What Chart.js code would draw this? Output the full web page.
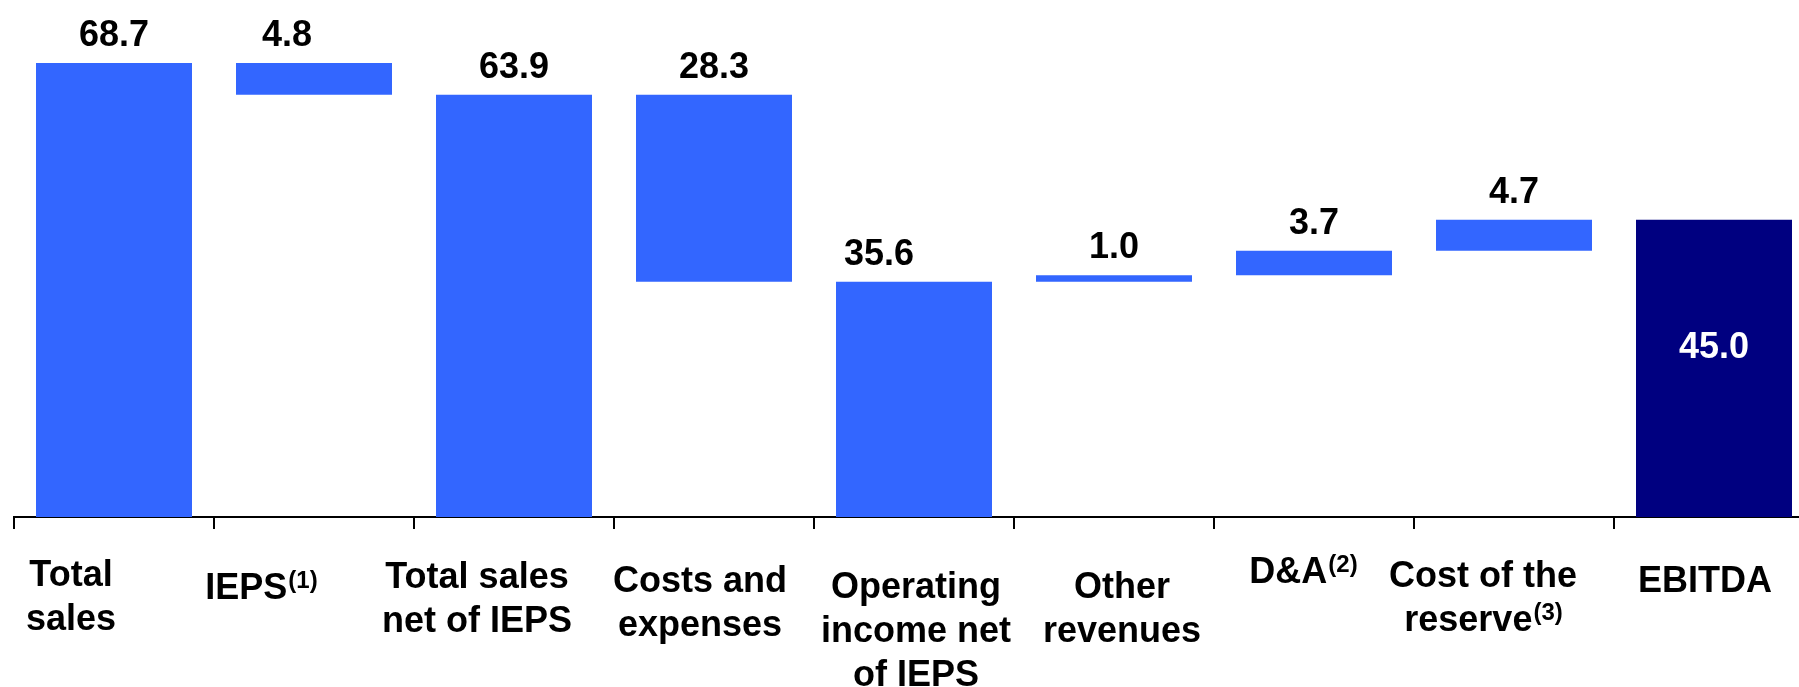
<!DOCTYPE html>
<html>
<head>
<meta charset="utf-8">
<title>EBITDA bridge</title>
<script src="https://cdn.jsdelivr.net/npm/chart.js@4/dist/chart.umd.min.js"></script>
<style>
  html, body { margin: 0; padding: 0; background: #fff; overflow: hidden; }
  canvas { display: block; }
</style>
</head>
<body>
<canvas id="bridge" width="1830" height="687"></canvas>
<script>
// categories, one array entry per text line
const categories = [
  ["Total", "sales"],
  ["IEPS"],
  ["Total sales", "net of IEPS"],
  ["Costs and", "expenses"],
  ["Operating", "income net", "of IEPS"],
  ["Other", "revenues"],
  ["D&A"],
  ["Cost of the", "reserve"],
  ["EBITDA"]
];
const footnotes = ["", "(1)", "", "", "", "", "(2)", "(3)", ""];

// amounts shown on the bars and how each one moves the running level
const amounts = [68.7, 4.8, 63.9, 28.3, 35.6, 1.0, 3.7, 4.7, 45.0];
const steps = ["total", "down", "total", "down", "total", "up", "up", "up", "total"];

const BLUE = "#3366ff";
const NAVY = "#000080";
const FONT = "'Liberation Sans', Arial, sans-serif";

// small hand nudges for the text boxes [dx, baseline]
const catNudge = [[-43, 69], [-53, 82], [-37, 71], [-14, 75], [2, 81], [8, 81], [-11, 66], [-31, 70], [-9, 75]];
const valueNudge = [0, -27, 0, 0, -35, 0, 0, 0, 0];

// floating [low, high] ranges for the waterfall
let level = 0;
const ranges = amounts.map((v, i) => {
  if (steps[i] === "total") { level = v; return [0, v]; }
  if (steps[i] === "down") { level -= v; return [level, level + v]; }
  level += v;
  return [level - v, level];
});

const labelPlugin = {
  id: "bridgeLabels",
  afterDatasetsDraw(chart) {
    const ctx = chart.ctx;
    const meta = chart.getDatasetMeta(0);
    const xScale = chart.scales.x;
    const bottom = chart.chartArea.bottom;
    ctx.save();
    ctx.textBaseline = "alphabetic";

    // values above (or inside) the bars
    ctx.font = "bold 36px " + FONT;
    ctx.textAlign = "center";
    meta.data.forEach((bar, i) => {
      const top = Math.min(bar.y, bar.base);
      const low = Math.max(bar.y, bar.base);
      const text = amounts[i].toFixed(1);
      if (i === amounts.length - 1) {
        ctx.fillStyle = "#fff";
        ctx.fillText(text, bar.x, top + (low - top) * 0.42 + 13);
      } else {
        ctx.fillStyle = "#000";
        ctx.fillText(text, bar.x + valueNudge[i], top - 17);
      }
    });

    // category names under the axis, with superscript footnote marks
    ctx.fillStyle = "#000";
    ctx.textAlign = "left";
    categories.forEach((lines, i) => {
      const cx = xScale.getPixelForValue(i) + catNudge[i][0];
      const y0 = bottom + catNudge[i][1];
      lines.forEach((line, j) => {
        const sup = j === lines.length - 1 ? footnotes[i] : "";
        ctx.font = "bold 36px " + FONT;
        const w = ctx.measureText(line).width;
        ctx.font = "bold 24px " + FONT;
        const sw = sup ? ctx.measureText(sup).width : 0;
        const x = cx - (w + sw) / 2;
        const y = y0 + j * 44;
        ctx.font = "bold 36px " + FONT;
        ctx.fillText(line, x, y);
        if (sup) {
          ctx.font = "bold 24px " + FONT;
          ctx.fillText(sup, x + w + 1, y - 11);
        }
      });
    });
    ctx.restore();
  }
};

new Chart(document.getElementById("bridge"), {
  type: "bar",
  data: {
    labels: categories.map(l => l.join(" ")),
    datasets: [{
      data: ranges,
      backgroundColor: ctx => (ctx.dataIndex === amounts.length - 1 ? NAVY : BLUE),
      borderWidth: 0,
      barPercentage: 0.78,
      categoryPercentage: 1
    }]
  },
  options: {
    responsive: false,
    animation: false,
    devicePixelRatio: 1,
    layout: { padding: { left: 14, right: 16, top: 0, bottom: 0 } },
    plugins: { legend: { display: false }, tooltip: { enabled: false } },
    scales: {
      x: {
        afterFit(scale) { scale.height = 170; },
        ticks: { display: false },
        grid: {
          offset: true,
          drawOnChartArea: false,
          drawTicks: true,
          tickLength: 12,
          lineWidth: 2,
          color: "#000"
        },
        border: { display: true, color: "#000", width: 2 }
      },
      y: {
        display: false,
        min: 0,
        max: 78.24
      }
    }
  },
  plugins: [labelPlugin]
});
</script>
</body>
</html>
